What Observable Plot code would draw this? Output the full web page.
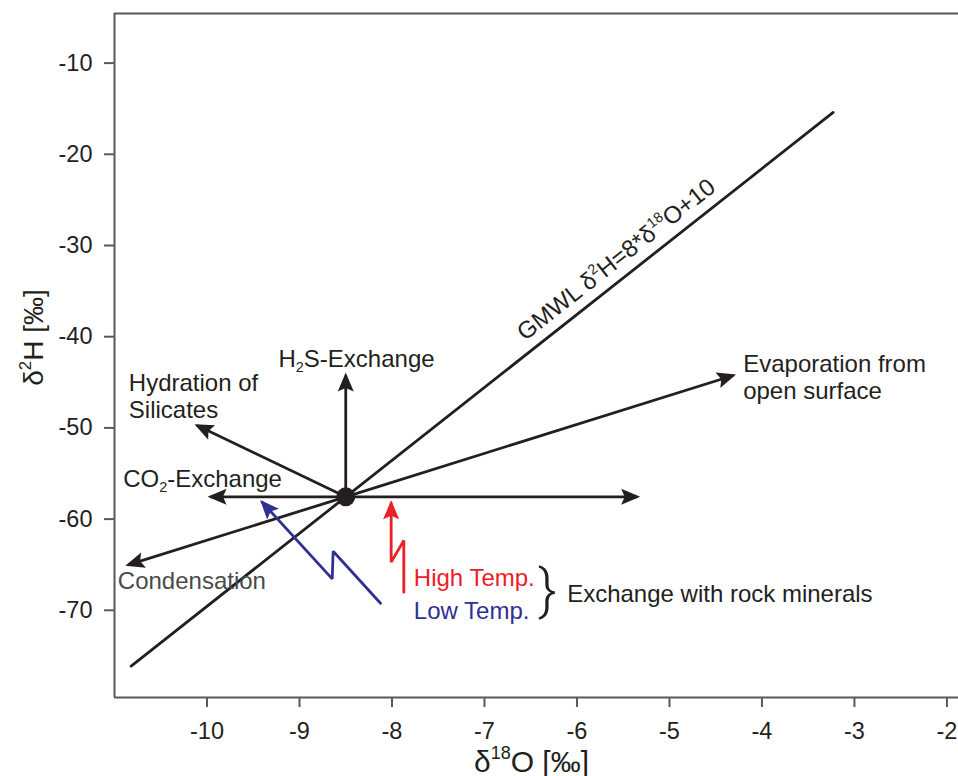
<!DOCTYPE html>
<html><head><meta charset="utf-8">
<script src="https://cdn.jsdelivr.net/npm/d3@7"></script>
<script src="https://cdn.jsdelivr.net/npm/@observablehq/plot@0.6"></script>
<style>
html,body{margin:0;padding:0;background:#fff;}
#chart svg{display:block;}
</style></head><body><div id="chart"></div>
<script>
// ---- data ----
const xDomain = [-11, -1.875];
const yDomain = [-80, -5];
const xTicks = [-10, -9, -8, -7, -6, -5, -4, -3, -2];
const yTicks = [-10, -20, -30, -40, -50, -60, -70];

const centerX = -8.5;
const centerY = -58;

const gmwlX = [-10.82, -3.23];
const gmwlY = [-76.56, -15.84];
const gmwlLabel = "GMWL δ^{2}H=8*δ^{18}O+10";
const gmwlLabelX = -5.45;
const gmwlLabelY = -33.6;

const arrowNames = ["H2S", "Hydration", "CO2", "Condensation", "Right", "Evaporation"];
const arrowX2 = [-8.5, -10.106, -9.962, -10.852, -5.349, -4.311];
const arrowY2 = [-44.7, -50.18, -58, -65.45, -58, -44.69];

const lowTempX = [-8.124, -8.636, -8.646, -9.403];
const lowTempY = [-69.66, -63.96, -66.99, -58.59];
const highTempX = [-7.872, -7.872, -8.009, -8.009];
const highTempY = [-68.45, -62.79, -65.16, -58.69];

const labelTexts = ["H_{2}S-Exchange", "Hydration of\nSilicates", "CO_{2}-Exchange", "Condensation",
  "Evaporation from\nopen surface", "High Temp.", "Low Temp.", "Exchange with rock minerals"];
const labelX = [-9.227, -10.845, -10.906, -10.964, -4.203, -7.764, -7.764, -6.106];
const labelY = [-43.78, -49.33, -56.94, -68.08, -47.25, -67.72, -71.37, -69.55];
const labelColors = ["#231f20", "#231f20", "#231f20", "#4a4a4c", "#231f20", "#ec2027", "#2e3192", "#231f20"];

const braceX = -6.319;
const braceY = -68.38;

const xTitle = "δ^{18}O [‰]";
const yTitle = "δ^{2}H [‰]";

// ---- layout ----
const W = 958, H = 776, mL = 114, mT = 13, mR = 0, mB = 79;
const ink = "#231f20", frameColor = "#58595b", sw = 2.8;
const font = "'Liberation Sans', Arial, sans-serif";

const pxX = (W - mL - mR) / (xDomain[1] - xDomain[0]);
const pxY = (H - mT - mB) / (yDomain[1] - yDomain[0]);
const gmwlAngle = Math.atan(8 * pxY / pxX) * 180 / Math.PI;
const off = 11;
const gdx = -off * Math.sin(gmwlAngle * Math.PI / 180);
const gdy = -off * Math.cos(gmwlAngle * Math.PI / 180);

const arrows = arrowX2.map((x, i) => ({name: arrowNames[i], x1: centerX, y1: centerY, x2: x, y2: arrowY2[i]}));
const gmwl = gmwlX.map((x, i) => ({x, y: gmwlY[i]}));
const lowTemp = lowTempX.map((x, i) => ({x, y: lowTempY[i]}));
const highTemp = highTempX.map((x, i) => ({x, y: highTempY[i]}));
const labels = labelTexts.map((t, i) => ({t, x: labelX[i], y: labelY[i], c: labelColors[i]}));

const chart = Plot.plot({
  width: W, height: H,
  marginLeft: mL, marginTop: mT, marginRight: mR, marginBottom: mB,
  style: {fontFamily: font, fontSize: "23px", color: ink, background: "#fff"},
  x: {domain: xDomain},
  y: {domain: yDomain},
  marks: [
    Plot.ruleX([xDomain[0]], {stroke: frameColor, strokeWidth: 2}),
    Plot.ruleY([yDomain[0], yDomain[1]], {stroke: frameColor, strokeWidth: 2}),
    Plot.axisX({ticks: xTicks, tickSize: 10, tickPadding: 15, tickFormat: d => String(d), stroke: frameColor, strokeWidth: 2, fill: ink, fontSize: 23.5, label: null}),
    Plot.axisY({ticks: yTicks, tickSize: 10, tickPadding: 12, tickFormat: d => String(d), stroke: frameColor, strokeWidth: 2, fill: ink, fontSize: 23.5, dy: 4, label: null}),
    Plot.line(gmwl, {x: "x", y: "y", stroke: ink, strokeWidth: sw}),
    Plot.link(arrows, {x1: "x1", y1: "y1", x2: "x2", y2: "y2", stroke: ink, strokeWidth: sw, markerEnd: "arrow"}),
    Plot.line(lowTemp, {x: "x", y: "y", stroke: "#2e3192", strokeWidth: sw, strokeLinejoin: "miter", markerEnd: "arrow"}),
    Plot.line(highTemp, {x: "x", y: "y", stroke: "#ec2027", strokeWidth: sw, strokeLinejoin: "miter", markerEnd: "arrow"}),
    Plot.dot([{x: centerX, y: centerY}], {x: "x", y: "y", r: 9.5, fill: ink, stroke: "none"}),
    Plot.text(labels, {x: "x", y: "y", text: "t", fill: "c", textAnchor: "start", lineAnchor: "bottom", fontSize: 24, lineHeight: 1.13}),
    Plot.text([{x: braceX, y: braceY}], {x: "x", y: "y", text: () => "}", fill: ink, textAnchor: "middle", lineAnchor: "middle", fontSize: 56, fontFamily: "Roboto", fontWeight: 300}),
    Plot.text([{x: gmwlLabelX, y: gmwlLabelY}], {x: "x", y: "y", text: () => gmwlLabel, fill: ink, textAnchor: "middle", lineAnchor: "bottom", rotate: -gmwlAngle, dx: gdx, dy: gdy, fontSize: 24}),
    Plot.text([xTitle], {frameAnchor: "bottom", text: d => d, fill: ink, textAnchor: "middle", lineAnchor: "bottom", dx: -5, dy: 74, fontSize: 30}),
    Plot.text([yTitle], {frameAnchor: "left", text: d => d, fill: ink, textAnchor: "middle", lineAnchor: "bottom", rotate: -90, dx: -72, dy: -18, fontSize: 28})
  ]
});

document.getElementById("chart").appendChild(chart);

// filled arrowheads
const NS = "http://www.w3.org/2000/svg";
chart.querySelectorAll("marker").forEach(m => {
  const color = m.getAttribute("stroke") || ink;
  m.setAttribute("markerUnits", "userSpaceOnUse");
  m.setAttribute("viewBox", "-17 -9 21 18");
  m.setAttribute("markerWidth", 21);
  m.setAttribute("markerHeight", 18);
  m.setAttribute("refX", 0);
  m.setAttribute("refY", 0);
  m.setAttribute("fill", color);
  m.setAttribute("stroke", "none");
  while (m.firstChild) m.removeChild(m.firstChild);
  const p = document.createElementNS(NS, "path");
  p.setAttribute("d", "M3,0L-16,-8L-12.5,0L-16,8Z");
  m.appendChild(p);
});

// superscripts / subscripts as tspans
chart.querySelectorAll("text").forEach(el => {
  if (el.querySelector("tspan")) return;
  const s = el.textContent;
  if (!/[\^_]\{/.test(s)) return;
  const fs = parseFloat(getComputedStyle(el).fontSize) || 22;
  el.textContent = "";
  const re = /([\^_])\{([^}]*)\}|([^\^_]+)/g;
  let m, cur = 0;
  while ((m = re.exec(s))) {
    const t = document.createElementNS(NS, "tspan");
    let target = 0;
    if (m[1]) {
      target = m[1] === "^" ? -0.42 * fs : 0.22 * fs;
      t.setAttribute("font-size", (0.6 * fs) + "px");
      t.textContent = m[2];
    } else {
      t.textContent = m[3];
    }
    const d = target - cur;
    if (d) t.setAttribute("dy", d);
    cur = target;
    el.appendChild(t);
  }
});
</script></body></html>
